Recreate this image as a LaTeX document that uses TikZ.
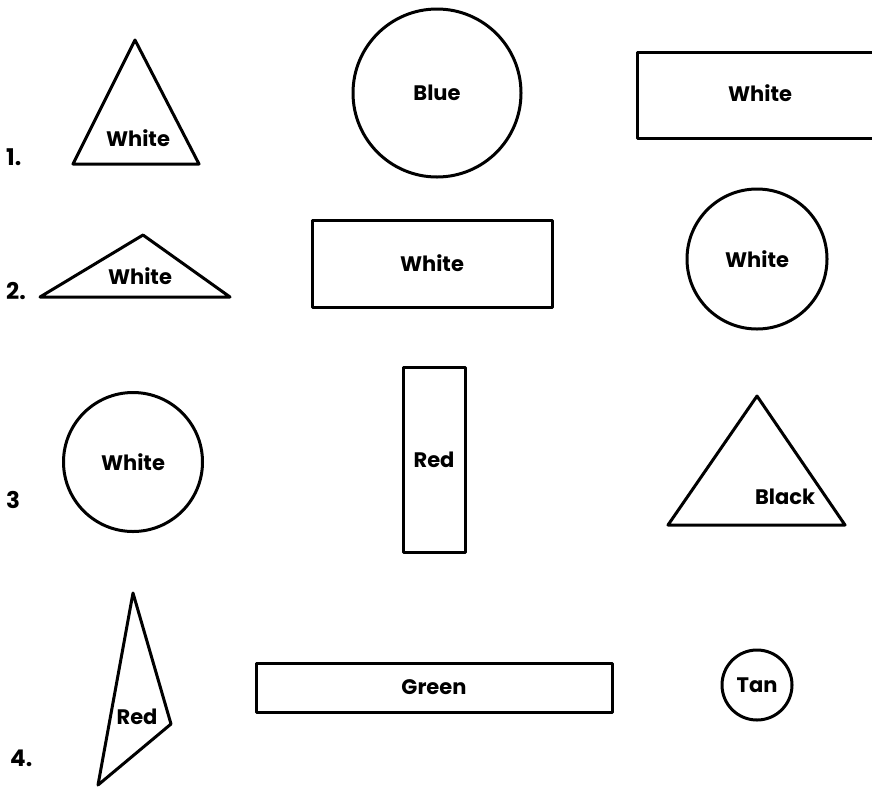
\documentclass[tikz,border=0pt]{standalone}
\usepackage{fontspec}
\setmainfont{Poppins}
\begin{document}
\begin{tikzpicture}[x=1pt,y=-1pt,line cap=round,line join=round,
  outline/.style={draw=black,line width=3pt},
  tag/.style={font=\fontsize{21}{24}\selectfont\bfseries,inner sep=0pt},
  rownum/.style={font=\fontsize{23}{26}\selectfont\bfseries,inner sep=0pt,anchor=west}]
\path[use as bounding box] (0,0) rectangle (872,788);
% row 1
\node[rownum] (num1) at (6,157) {1.};
\draw[outline] (135,40) -- (199,164) -- (73,164) -- cycle;
\node[tag] (tri1) at (138,138) {White};
\node[outline,circle,minimum size=168pt,tag] (circ1) at (437,93) {Blue};
\draw[outline] (874,52) -- (637,52) -- (637,138) -- (874,138);
\node[tag] (rect1) at (760,93) {White};
% row 2
\node[rownum] (num2) at (6,291) {2.};
\draw[outline] (143,235) -- (230,297) -- (40,297) -- cycle;
\node[tag] (tri2) at (140,276) {White};
\node[outline,minimum width=240pt,minimum height=87pt,tag] (rect2) at (432,263.5) {White};
\node[outline,circle,minimum size=140pt,tag] (circ2) at (757,259) {White};
% row 3
\node[rownum] (num3) at (6,500) {3};
\node[outline,circle,minimum size=139pt,tag] (circ3) at (133,462) {White};
\node[outline,minimum width=62pt,minimum height=185pt,tag] (rect3) at (434,459.5) {Red};
\draw[outline] (757,396) -- (845,525) -- (668,525) -- cycle;
\node[tag] (tri3) at (785,497) {Black};
% row 4
\node[rownum] (num4) at (10,758) {4.};
\draw[outline] (133,593) -- (171,724) -- (98,785) -- cycle;
\node[tag] (tri4) at (137,717) {Red};
\node[outline,minimum width=356pt,minimum height=49pt,tag] (rect4) at (434,687.5) {Green};
\node[outline,circle,minimum size=70pt,tag] (circ4) at (757,685) {Tan};
\end{tikzpicture}
\end{document}
